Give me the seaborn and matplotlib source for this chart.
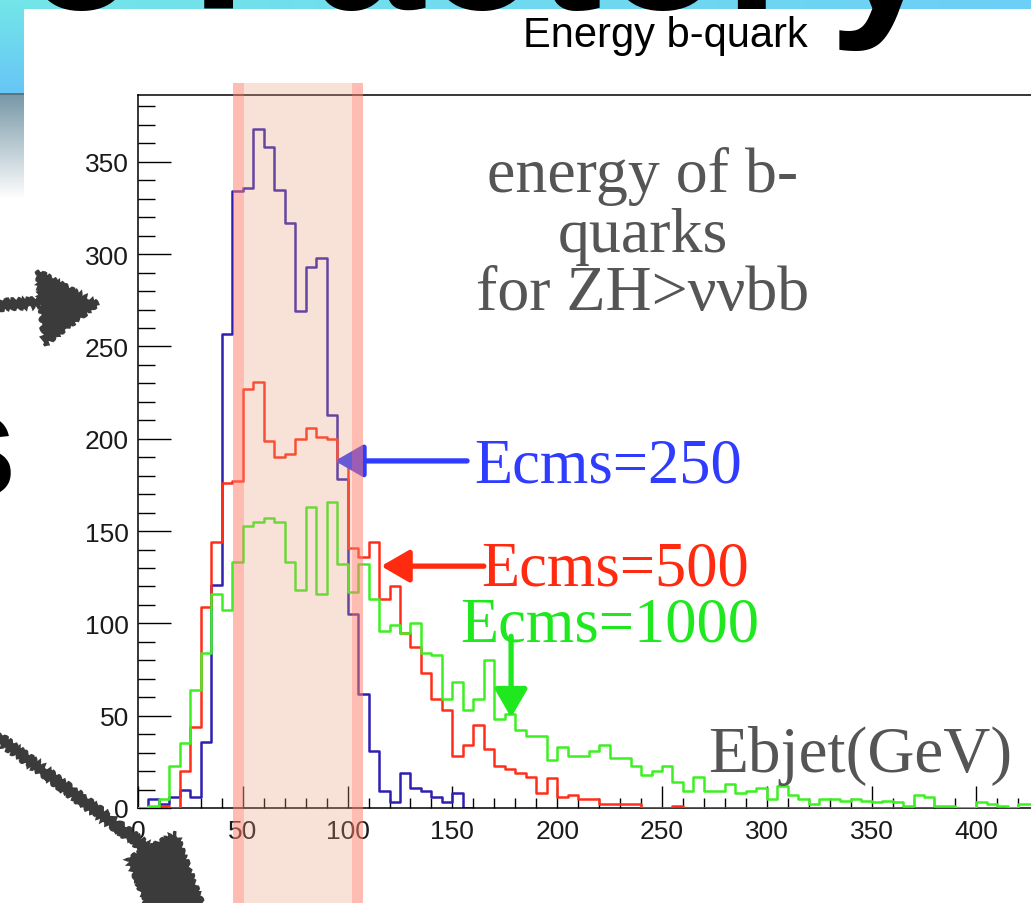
import numpy as np
import pandas as pd
import matplotlib
matplotlib.use("Agg")
import matplotlib.pyplot as plt
import matplotlib.transforms as mtransforms
from matplotlib.patches import Rectangle, Polygon
from matplotlib.ticker import MultipleLocator
import seaborn as sns

# ---------------------------------------------------------------- data
BIN_WIDTH = 5  # GeV, bins start at 0

# b-jet energy spectra (entries per 5 GeV bin) for ZH -> nu nu b b
counts_250 = [0, 5, 2, 6, 10, 6, 36, 121, 257, 334, 336, 368, 358, 335, 317, 269,
              293, 298, 213, 178, 105, 62, 31, 9, 3, 19, 11, 9, 6, 3, 8, 0]
counts_500 = [0, 0, 1, 0, 20, 44, 109, 144, 176, 177, 227, 231, 199, 190, 192, 200,
              206, 201, 200, 188, 141, 136, 144, 113, 120, 95, 87, 73, 59, 53, 28, 34,
              45, 32, 23, 21, 19, 17, 8, 16, 6, 7, 5, 5, 2, 2, 2, 2, 0, 0, 0, 1,
              0, 0, 0, 0, 0, 0, 0, 0, 0, 0, 0, 0, 0, 0, 0, 0, 0, 0, 0, 0, 0, 0,
              0, 0, 0, 0, 0, 0, 0, 0]
counts_1000 = [0, 1, 5, 23, 35, 64, 84, 116, 107, 133, 153, 155, 157, 155, 133, 118,
               163, 116, 166, 132, 117, 132, 113, 96, 99, 95, 100, 84, 83, 59, 68, 53,
               59, 80, 48, 51, 42, 39, 39, 26, 33, 28, 28, 31, 34, 27, 27, 23, 18, 20,
               23, 14, 9, 17, 9, 9, 13, 8, 9, 11, 5, 12, 7, 5, 2, 5, 5, 4, 5, 4, 3, 4,
               3, 1, 7, 6, 1, 1, 0, 0, 3, 2, 1, 0, 2, 2]

series_labels = ["Ecms=250", "Ecms=500", "Ecms=1000"]
series_counts = [counts_250, counts_500, counts_1000]
series_colors = ["#2d1fb0", "#ff2d1a", "#3cf021"]
label_colors = ["#2f3cff", "#ff2a10", "#1fe81f"]

x_ticks_step, x_minor_step = 50, 10
y_ticks_step, y_minor_step = 50, 10
x_max, y_max = 426, 386.2

# arrows: (tail, head) in data units
arrow_250 = ((157, 188), (94, 188))
arrow_500 = ((165, 131), (116, 131))
arrow_1000 = ((178, 93), (178, 49))

# highlighted energy window
window_lo, window_hi, window_rim = 45.3, 107.3, 5.2

# ---------------------------------------------------------------- style
sns.set_theme(style="ticks")
plt.rcParams["font.family"] = ["Liberation Sans", "DejaVu Sans"]

W, H = 1031, 904
fig = plt.figure(figsize=(W / 100, H / 100), dpi=100)
fig.patch.set_facecolor("white")


def fx(px):
    return px / W


def fy(py):
    return 1 - py / H


# ---------------------------------------------------------------- slide backdrop
bg = fig.add_axes([0, 0, 1, 1], zorder=-5)
bg.axis("off")


def hgrad(c0, c1, n=256):
    a = np.array(matplotlib.colors.to_rgb(c0))
    b = np.array(matplotlib.colors.to_rgb(c1))
    t = np.linspace(0, 1, n)[None, :, None]
    return a + (b - a) * t


def vgrad(c0, c1, n=256):
    return np.transpose(hgrad(c0, c1, n), (1, 0, 2))


bg.imshow(hgrad("#74e6e8", "#6ccff6"), extent=(0, W, 10, 0), aspect="auto")
bg.imshow(vgrad("#74e6e8", "#66c6f6"), extent=(0, 24, 94, 0), aspect="auto")
bg.add_patch(Rectangle((0, 94), 24, 2, color="#5f7480", lw=0))
bg.imshow(vgrad("#7898a8", "#ffffff"), extent=(0, 24, 200, 96), aspect="auto")
bg.set_xlim(0, W)
bg.set_ylim(H, 0)

# ---------------------------------------------------------------- histogram panel
px_per_unit = 2.096
ax_left_px, ax_bottom_px, ax_top_px = 138.0, 809.0, 96.0
ax = fig.add_axes([fx(ax_left_px), fy(ax_bottom_px),
                   x_max * px_per_unit / W, (ax_bottom_px - ax_top_px) / H], zorder=0)
ax.set_facecolor("white")

zorders = [1.5, 3.0, 3.2]
for counts, color, z in zip(series_counts, series_colors, zorders):
    counts = np.asarray(counts, dtype=float)
    edges = np.arange(len(counts) + 1) * BIN_WIDTH
    hist_df = pd.DataFrame({"energy": edges[:-1] + BIN_WIDTH / 2, "entries": counts})
    sns.histplot(data=hist_df, x="energy", weights="entries", bins=edges.tolist(),
                 element="step", fill=False, color=color, linewidth=1.8,
                 zorder=z, ax=ax)

ax.set_xlim(0, x_max)
ax.set_ylim(0, y_max)
ax.set_xlabel("")
ax.set_ylabel("")

for side in ["left", "bottom", "top"]:
    ax.spines[side].set_visible(True)
    ax.spines[side].set_color("black")
    ax.spines[side].set_linewidth(1.1)
    ax.spines[side].set_zorder(2.5)
ax.spines["right"].set_visible(False)

ax.xaxis.set_major_locator(MultipleLocator(x_ticks_step))
ax.xaxis.set_minor_locator(MultipleLocator(x_minor_step))
ax.yaxis.set_major_locator(MultipleLocator(y_ticks_step))
ax.yaxis.set_minor_locator(MultipleLocator(y_minor_step))
ax.tick_params(which="both", direction="in", color="black", width=1.0,
               top=False, right=False, labelcolor="#1a1a1a")
ax.tick_params(axis="x", which="major", length=15.8, pad=8, labelsize=19)
ax.tick_params(axis="x", which="minor", length=7.2)
ax.tick_params(axis="y", which="major", length=23.8, pad=6.5, labelsize=19)
ax.tick_params(axis="y", which="minor", length=12.2)

# arrows pointing at each spectrum
for (tail, head), col in zip([arrow_250, arrow_500, arrow_1000], label_colors):
    ax.annotate("", xy=head, xytext=tail,
                arrowprops=dict(arrowstyle="-|>,head_length=0.95,head_width=0.55",
                                mutation_scale=18, color=col, lw=3.8,
                                shrinkA=0, shrinkB=0),
                zorder=5, annotation_clip=False)

# highlighted window, spanning the whole slide height
band_tr = mtransforms.blended_transform_factory(ax.transData, fig.transFigure)
band_top = fy(84)
ax.add_patch(Rectangle((window_lo, 0), window_rim, band_top, transform=band_tr,
                       facecolor="#ff7f6e", alpha=0.52, lw=0, clip_on=False, zorder=6))
ax.add_patch(Rectangle((window_lo + window_rim, 0),
                       window_hi - window_lo - 2 * window_rim, band_top,
                       transform=band_tr, facecolor="#e8a07c", alpha=0.30, lw=0,
                       clip_on=False, zorder=6))
ax.add_patch(Rectangle((window_hi - window_rim, 0), window_rim, band_top,
                       transform=band_tr, facecolor="#ff7f6e", alpha=0.52, lw=0,
                       clip_on=False, zorder=6))

# ---------------------------------------------------------------- texts
fig.text(fx(665), fy(47), "Energy b-quark", ha="center", va="baseline",
         fontsize=30, color="black", family=["Liberation Sans", "DejaVu Sans"])

serif = ["Liberation Serif", "DejaVu Serif"]
for txt, base in [("energy of b-", 192), ("quarks", 252), ("for ZH>\u03bd\u03bdbb", 310)]:
    fig.text(fx(643), fy(base), txt, ha="center", va="baseline", fontsize=46,
             color="#555555", family=serif)

label_pos = [(608, 483), (615, 585), (610, 642)]
for lab, (px, py), col in zip(series_labels, label_pos, label_colors):
    fig.text(fx(px), fy(py), lab, ha="center", va="baseline", fontsize=45,
             color=col, family=serif, zorder=7)

fig.text(fx(860), fy(772), "Ebjet(GeV)", ha="center", va="baseline", fontsize=47,
         color="#555555", family=serif, zorder=7)

# ---------------------------------------------------------------- slide foreground
fg = fig.add_axes([0, 0, 1, 1], zorder=10)
fg.set_xlim(0, W)
fg.set_ylim(H, 0)
fg.axis("off")
fg.patch.set_alpha(0)

heading_font = dict(fontsize=144, weight="bold", color="black", va="baseline",
                    family=["Liberation Sans", "DejaVu Sans"])
fg.text(24, 9, "e Factor", ha="left", **heading_font)
fg.text(828, 9, "y", ha="left", **heading_font)
fg.text(17, 497, "s", fontsize=110, weight="bold", color="black",
        ha="right", va="baseline", family=["Liberation Sans", "DejaVu Sans"])

ink = "#3b3b3b"
sketch_shapes = [
    [(0, 302), (40, 300), (40, 307), (0, 310)],
    [(38, 272), (98, 305), (44, 346)],
    [(0, 735), (150, 846), (146, 854), (0, 745)],
    [(128, 860), (176, 834), (206, 915), (150, 915)],
]
for pts in sketch_shapes:
    poly = Polygon(pts, closed=True, facecolor=ink, edgecolor=ink, lw=2)
    poly.set_sketch_params(scale=2.0, length=8, randomness=4)
    fg.add_patch(poly)

fig.savefig("out.png", dpi=100)
